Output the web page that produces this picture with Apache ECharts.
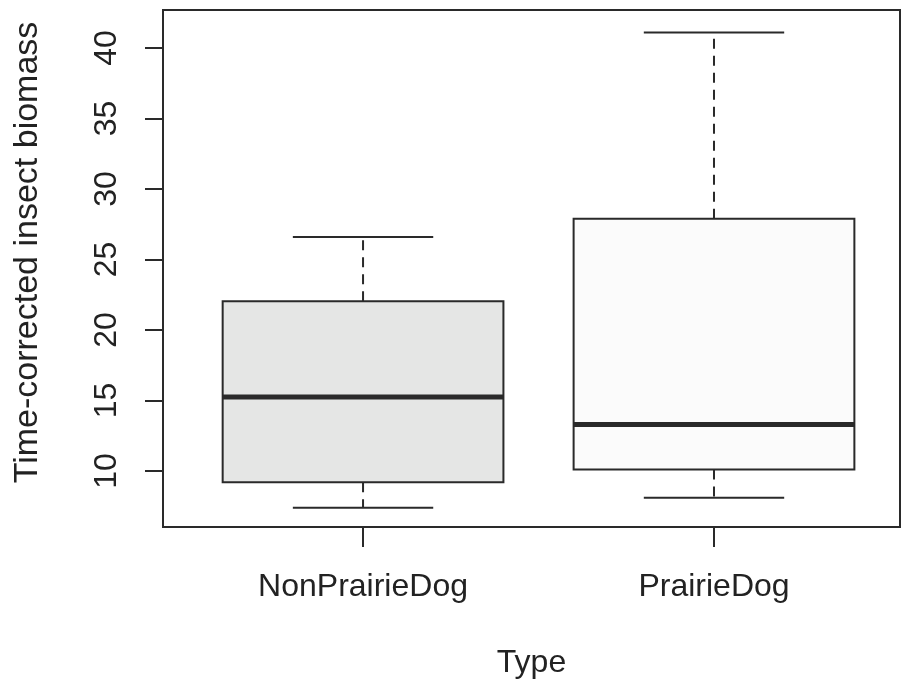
<!DOCTYPE html>
<html>
<head>
<meta charset="utf-8">
<script src="https://cdn.jsdelivr.net/npm/echarts@6/dist/echarts.min.js"></script>
<style>
  html, body { margin: 0; padding: 0; background: #fff; }
  #main { width: 901px; height: 686px; }
</style>
</head>
<body>
<div id="main"></div>
<script>
// boxplot stats
var categories = ['NonPrairieDog', 'PrairieDog'];
var positions = [1, 2];
var lowWhisker = [7.4, 8.1];
var q1 = [9.2, 10.1];
var medians = [15.25, 13.3];
var q3 = [22.05, 27.9];
var highWhisker = [26.6, 41.1];
var yTicks = [10, 15, 20, 25, 30, 35, 40];

var boxFills = ['#e5e6e5', '#fbfbfb'];
var ink = '#2a2a2a';

var rows = [];
for (var i = 0; i < categories.length; i++) {
    rows.push([positions[i], lowWhisker[i], q1[i], medians[i], q3[i], highWhisker[i]]);
}

var dom = document.getElementById('main');
var chart = echarts.init(dom);

function renderBox(params, api) {
    var x = api.value(0);
    var lo = api.value(1), b1 = api.value(2), md = api.value(3), b3 = api.value(4), hi = api.value(5);
    var half = 0.4, capHalf = 0.2;
    var p = function (vx, vy) { return api.coord([vx, vy]); };
    var tl = p(x - half, b3), br = p(x + half, b1);
    var lineSt = { stroke: ink, lineWidth: 2, fill: null };
    return {
        type: 'group',
        children: [
            {
                type: 'line',
                shape: { x1: p(x, b3)[0], y1: p(x, b3)[1], x2: p(x, hi)[0], y2: p(x, hi)[1] },
                style: { stroke: ink, lineWidth: 2, lineDash: [10, 7] }
            },
            {
                type: 'line',
                shape: { x1: p(x, b1)[0], y1: p(x, b1)[1], x2: p(x, lo)[0], y2: p(x, lo)[1] },
                style: { stroke: ink, lineWidth: 2, lineDash: [10, 7] }
            },
            {
                type: 'line',
                shape: { x1: p(x - capHalf, hi)[0], y1: p(x, hi)[1], x2: p(x + capHalf, hi)[0], y2: p(x, hi)[1] },
                style: lineSt
            },
            {
                type: 'line',
                shape: { x1: p(x - capHalf, lo)[0], y1: p(x, lo)[1], x2: p(x + capHalf, lo)[0], y2: p(x, lo)[1] },
                style: lineSt
            },
            {
                type: 'rect',
                shape: { x: tl[0], y: tl[1], width: br[0] - tl[0], height: br[1] - tl[1] },
                style: { fill: boxFills[params.dataIndex], stroke: ink, lineWidth: 2 }
            },
            {
                type: 'line',
                shape: { x1: p(x - half, md)[0], y1: p(x, md)[1], x2: p(x + half, md)[0], y2: p(x, md)[1] },
                style: { stroke: ink, lineWidth: 5 }
            }
        ]
    };
}

var font = '"Liberation Sans", Arial, sans-serif';

option = {
    backgroundColor: '#ffffff',
    animation: false,
    grid: {
        left: 163,
        top: 10,
        right: 1,
        bottom: 159,
        show: true,
        borderColor: ink,
        borderWidth: 2,
        backgroundColor: 'transparent'
    },
    xAxis: {
        type: 'value',
        min: 0.43,
        max: 2.53,
        name: 'Type',
        nameLocation: 'middle',
        nameGap: 120,
        nameTextStyle: { fontFamily: font, fontSize: 32, color: '#222' },
        axisLine: { show: false },
        splitLine: { show: false },
        axisTick: { show: true, length: 20, lineStyle: { color: ink, width: 2 }, customValues: positions },
        axisLabel: {
            fontFamily: font, fontSize: 32, color: '#222', margin: 44,
            customValues: positions,
            formatter: function (v) { return categories[Math.round(v) - 1]; }
        }
    },
    yAxis: {
        type: 'value',
        min: 6.03,
        max: 42.7,
        name: 'Time-corrected insect biomass',
        nameLocation: 'middle',
        nameGap: 118,
        nameTextStyle: { fontFamily: font, fontSize: 34, color: '#222', padding: [0, 0, 0, 32] },
        axisLine: { show: false },
        splitLine: { show: false },
        axisTick: { show: true, length: 18, lineStyle: { color: ink, width: 2 }, customValues: yTicks },
        axisLabel: {
            fontFamily: font, fontSize: 32, color: '#222', margin: 40, rotate: 90,
            customValues: yTicks
        }
    },
    series: [
        {
            type: 'custom',
            renderItem: renderBox,
            encode: { x: 0, y: [1, 2, 3, 4, 5] },
            data: rows
        }
    ]
};
chart.setOption(option);
</script>
</body>
</html>
